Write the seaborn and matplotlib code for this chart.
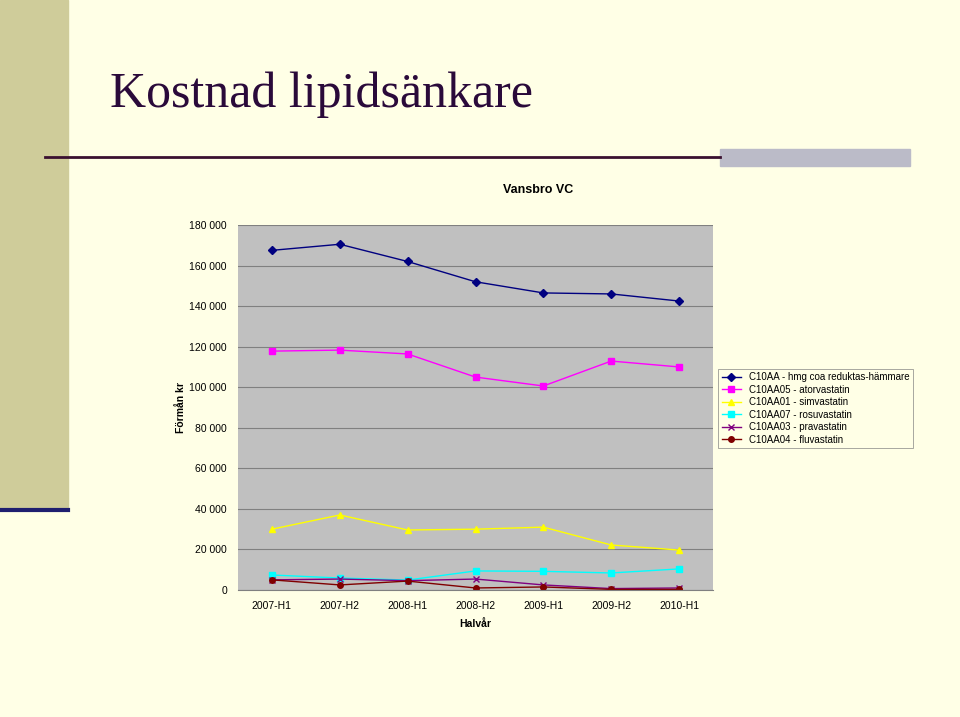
import numpy as np
import pandas as pd
import matplotlib
matplotlib.use("Agg")
import matplotlib.pyplot as plt
import seaborn as sns

periods = ["2007-H1", "2007-H2", "2008-H1", "2008-H2", "2009-H1", "2009-H2", "2010-H1"]
c10aa = [167500, 170500, 162000, 152000, 146500, 146000, 142500]
c10aa05 = [117800, 118300, 116400, 105000, 100600, 112900, 110000]
c10aa01 = [30000, 37000, 29600, 30000, 31000, 22200, 19700]
c10aa07 = [7400, 5900, 4900, 9400, 9200, 8400, 10400]
c10aa03 = [5000, 5400, 4600, 5400, 2500, 700, 1000]
c10aa04 = [5000, 2500, 4400, 1000, 1500, 300, 300]

series = [
    ("C10AA - hmg coa reduktas-hämmare", c10aa, "#000080", "D"),
    ("C10AA05 - atorvastatin", c10aa05, "#FF00FF", "s"),
    ("C10AA01 - simvastatin", c10aa01, "#FFFF00", "^"),
    ("C10AA07 - rosuvastatin", c10aa07, "#00FFFF", "s"),
    ("C10AA03 - pravastatin", c10aa03, "#800080", "x"),
    ("C10AA04 - fluvastatin", c10aa04, "#800000", "o"),
]

bg = "#FFFFE6"
fig = plt.figure(figsize=(9.6, 7.17), dpi=100, facecolor=bg)

# decorations
fig.patches.append(plt.Rectangle((0, 1 - 510 / 717), 68 / 960, 510 / 717,
                                 transform=fig.transFigure, color="#CFCC9A", zorder=0))
fig.lines.append(plt.Line2D([0, 68 / 960], [1 - 510 / 717] * 2, transform=fig.transFigure,
                            color="#1F1F6F", lw=3))
fig.lines.append(plt.Line2D([45 / 960, 720 / 960], [1 - 157 / 717] * 2, transform=fig.transFigure,
                            color="#3A1030", lw=2))
fig.patches.append(plt.Rectangle((720 / 960, 1 - 166 / 717), 190 / 960, 17 / 717,
                                 transform=fig.transFigure, color="#BBBBC8", zorder=0))
fig.text(110 / 960, 1 - 95 / 717, "Kostnad lipidsänkare", fontsize=36, family="Liberation Serif",
         color="#2A0A3A", va="center")
fig.text(538 / 960, 1 - 190 / 717, "Vansbro VC", fontsize=9, fontweight="bold",
         family="Liberation Sans", ha="center", va="center")

ax = fig.add_axes([238 / 960, 1 - 590 / 717, 475 / 960, 365 / 717])
ax.set_facecolor("#C0C0C0")
x_pos = np.arange(len(periods))
for name, vals, color, marker in series:
    sns.lineplot(x=x_pos, y=vals, color=color, marker=marker, lw=1, markersize=4,
                 markeredgewidth=1, markeredgecolor=color, label=name, ax=ax)
ax.set_ylim(0, 180000)
ax.set_xlim(-0.5, 6.5)
ax.set_yticks(range(0, 180001, 20000))
ax.set_yticklabels([f"{v:,}".replace(",", " ") for v in range(0, 180001, 20000)],
                   family="Liberation Sans", fontsize=7.5)
ax.set_xticks(x_pos)
ax.set_xticklabels(periods, family="Liberation Sans", fontsize=7.5)
ax.grid(axis="y", color="#808080", lw=0.8)
ax.set_axisbelow(True)
ax.tick_params(length=0, pad=8)
for s in ax.spines.values():
    s.set_visible(False)
ax.spines["bottom"].set_visible(True)
ax.spines["bottom"].set_color("#808080")
ax.set_xlabel("Halvår", fontsize=7.5, fontweight="bold", family="Liberation Sans", labelpad=6)
ax.set_ylabel("Förmån kr", fontsize=7.5, fontweight="bold", family="Liberation Sans")
ax.yaxis.set_label_coords(-0.11, 0.5)

leg = ax.legend(loc="upper left", bbox_to_anchor=(1.0, 0.62), frameon=True, fancybox=False,
                prop={"family": "Liberation Sans", "size": 7}, handlelength=2,
                borderpad=0.4, labelspacing=0.25, facecolor=bg, edgecolor="#808080")
leg.get_frame().set_linewidth(0.6)

fig.savefig("out.png", dpi=100, facecolor=bg)
